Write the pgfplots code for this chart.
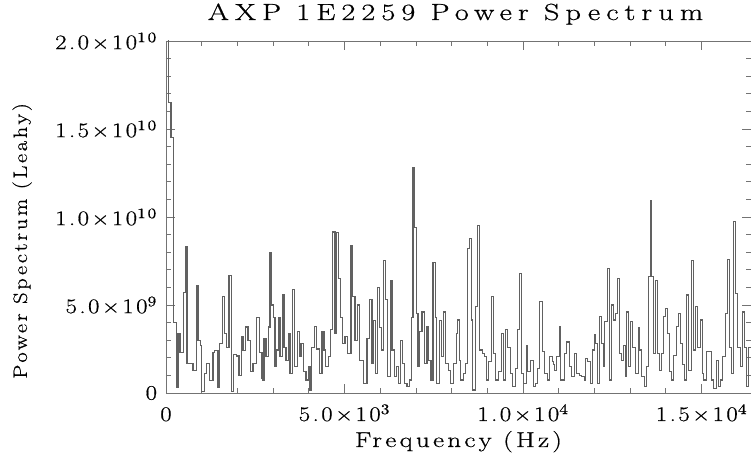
\documentclass[border=0pt]{standalone}
\usepackage{graphicx}
\usepackage{pgfplots}
\pgfplotsset{compat=1.18}
\usepackage{pgfplotstable}
\usepackage{fontspec}
\setmainfont{Latin Modern Roman}
\newfontfamily\idlfont{Latin Modern Roman}[LetterSpace=12,FakeBold=0.6]
\newfontfamily\idltick{Latin Modern Roman}[LetterSpace=10,FakeBold=0.6]
\newfontfamily\idltitle{Latin Modern Roman}[LetterSpace=20,FakeBold=0.6]
\newcommand\tl[2]{\scalebox{1.2}[1]{#1\texttimes10\textsuperscript{#2}}}

\pgfplotstableread{
f p
0 21e9
70 16.5e9
140 14.5e9
210 4.0e9
288 0.3e9
336 3.4e9
392 2.3e9
496 5.7e9
552 8.3e9
588 1.7e9
664 1.7e9
756 1.3e9
848 6.1e9
896 3.0e9
960 2.7e9
988 0.1e9
1084 1.1e9
1128 1.7e9
1224 0.7e9
1316 2.3e9
1364 2.4e9
1456 0.3e9
1504 2.8e9
1576 5.5e9
1644 3.4e9
1688 2.6e9
1764 6.7e9
1828 0.1e9
1896 2.2e9
1968 2.1e9
2044 1.0e9
2108 3.2e9
2156 2.4e9
2232 3.75e9
2296 3.0e9
2360 1.2e9
2436 1.7e9
2528 4.3e9
2624 2.3e9
2688 0.8e9
2716 0.74e9
2744 3.1e9
2800 2.06e9
2864 3.75e9
2912 8.0e9
2960 5.0e9
3004 4.3e9
3052 1.5e9
3100 2.44e9
3144 4.3e9
3192 2.06e9
3256 5.6e9
3304 2.6e9
3360 1.87e9
3424 3.4e9
3472 1.1e9
3536 5.9e9
3592 1.5e9
3676 3.5e9
3732 2.06e9
3780 2.8e9
3844 1.2e9
3920 0.74e9
3984 1.5e9
4032 0.17e9
4080 2.6e9
4152 3.8e9
4220 2.5e9
4292 1.1e9
4368 3.5e9
4424 2.44e9
4472 1.5e9
4544 2.06e9
4612 3.6e9
4668 9.15e9
4732 3.4e9
4768 9.1e9
4824 6.5e9
4892 4.3e9
4948 2.8e9
5012 3.2e9
5076 2.25e9
5180 8.35e9
5228 5.5e9
5292 3.0e9
5368 5.0e9
5412 1.87e9
5468 1.87e9
5536 0.55e9
5628 3.1e9
5704 5.3e9
5768 1.68e9
5816 4.1e9
5860 1.1e9
5928 6.0e9
5984 3.7e9
6028 2.44e9
6096 7.55e9
6140 5.3e9
6208 0.93e9
6280 6.4e9
6328 2.44e9
6392 0.93e9
6448 1.5e9
6516 0.55e9
6560 3.0e9
6628 1.68e9
6684 0.55e9
6748 0.36e9
6812 0.74e9
6868 4.3e9
6916 12.8e9
6952 9.4e9
7008 4.5e9
7056 1.5e9
7104 3.5e9
7168 4.6e9
7232 1.68e9
7308 3.8e9
7356 1.87e9
7420 0.74e9
7476 7.4e9
7540 4.3e9
7588 0.55e9
7664 4.1e9
7708 2.06e9
7776 4.6e9
7840 1.68e9
7916 1.3e9
7980 0.55e9
8056 1.68e9
8128 3.4e9
8176 4.15e9
8212 1.87e9
8252 0.74e9
8324 1.1e9
8392 1.68e9
8456 8.2e9
8504 8.8e9
8548 4.15e9
8596 0.17e9
8672 4.9e9
8736 9.5e9
8792 2.44e9
8856 2.25e9
8924 2.06e9
8980 0.74e9
9044 1.78e9
9120 5.47e9
9164 2.25e9
9232 0.74e9
9304 1.2e9
9388 3.4e9
9444 0.74e9
9512 3.6e9
9576 2.6e9
9652 1.1e9
9716 0.36e9
9792 1.4e9
9836 3.6e9
9892 6.8e9
9948 1.1e9
10024 0.55e9
10088 2.7e9
10136 1.2e9
10212 1.87e9
10284 0.36e9
10352 0.55e9
10416 1.4e9
10472 5.2e9
10536 2.35e9
10604 1.1e9
10676 0.74e9
10744 2.06e9
10816 1.78e9
10864 1.6e9
10892 1.3e9
10948 2.06e9
11012 3.77e9
11060 0.74e9
11108 0.74e9
11172 2.25e9
11228 2.9e9
11292 1.5e9
11360 0.93e9
11432 2.25e9
11500 1.1e9
11572 1.0e9
11640 0.93e9
11712 0.74e9
11760 1.97e9
11808 1.78e9
11880 0.55e9
11948 2.44e9
11992 3.3e9
12040 2.8e9
12088 0.55e9
12132 4.33e9
12200 2.8e9
12244 1.5e9
12292 4.05e9
12368 7.08e9
12424 0.74e9
12480 5.0e9
12536 4.15e9
12600 4.5e9
12648 6.5e9
12692 2.25e9
12760 1.87e9
12816 2.7e9
12860 0.93e9
12908 4.6e9
12956 1.5e9
13020 4.05e9
13068 2.6e9
13112 2.6e9
13160 1.1e9
13224 3.7e9
13272 2.44e9
13328 0.93e9
13392 0.36e9
13460 1.5e9
13516 6.6e9
13560 10.95e9
13608 6.6e9
13656 2.25e9
13712 6.4e9
13756 2.25e9
13824 1.3e9
13888 2.25e9
13944 4.33e9
13992 4.8e9
14036 3.4e9
14104 1.2e9
14168 0.74e9
14224 2.15e9
14288 3.77e9
14356 4.5e9
14412 2.8e9
14476 1.6e9
14524 0.74e9
14588 5.57e9
14644 1.3e9
14708 7.55e9
14776 2.44e9
14832 4.9e9
14896 2.6e9
14960 4.15e9
15016 1.1e9
15064 0.74e9
15128 2.35e9
15196 2.35e9
15268 0.74e9
15336 0.27e9
15408 1.87e9
15476 0.36e9
15532 0.74e9
15596 2.06e9
15660 4.5e9
15716 7.6e9
15772 2.6e9
15828 1.1e9
15904 9.73e9
15952 5.66e9
16016 2.6e9
16080 1.5e9
16136 4.6e9
16204 2.6e9
16268 0.36e9
16324 2.6e9
16384 2.6e9
}\spec

\begin{document}
\begin{tikzpicture}
\begin{axis}[
  scale only axis,
  width=438.75pt, height=264pt,
  xmin=0, xmax=16384, ymin=0, ymax=2e10,
  axis line style={black!55, line width=0.7pt},
  tick style={black!55, line width=0.6pt},
  tick align=inside,
  major tick length=7pt, minor tick length=3.5pt,
  xtick={0,5000,10000,15000},
  xticklabels={\scalebox{1.2}[1]{0}, \tl{5.0}{3}, \tl{1.0}{4}, \tl{1.5}{4}},
  ytick={0,5e9,1e10,1.5e10,2e10},
  yticklabels={\scalebox{1.2}[1]{0}, \tl{5.0}{9}, \tl{1.0}{10}, \tl{1.5}{10}, \tl{2.0}{10}},
  scaled ticks=false,
  minor x tick num=4, minor y tick num=4,
  xticklabel style={inner sep=0pt, anchor=base, yshift=-21pt, font=\idltick\fontsize{15.5}{18}\selectfont},
  yticklabel style={inner sep=0pt, anchor=east, xshift=-6.5pt, font=\idltick\fontsize{15.5}{18}\selectfont},
  xlabel={\scalebox{1.27}[1]{Frequency (Hz)}},
  xlabel style={at={(axis description cs:0.5,0)}, anchor=base, yshift=-40.5pt, inner sep=0pt, font=\idlfont\fontsize{16}{19}\selectfont},
  ylabel={\scalebox{1.16}[1]{Power Spectrum (Leahy)}},
  ylabel style={at={(axis description cs:-0.246,0.432)}, anchor=center, inner sep=0pt, font=\idlfont\fontsize{14.5}{17}\selectfont},
  title={\scalebox{1.3}[1]{AXP 1E2259 Power Spectrum}},
  title style={at={(axis description cs:0.495,1)}, anchor=base, yshift=9.75pt, inner sep=0pt, font=\idltitle\fontsize{17.5}{20}\selectfont},
]
\addplot[const plot, black!62, line width=0.85pt] table[x=f, y=p] {\spec};
\end{axis}
\pgfresetboundingbox
\path (-124.5pt,-48pt) rectangle (438.75pt,294.75pt);
\end{tikzpicture}
\end{document}
